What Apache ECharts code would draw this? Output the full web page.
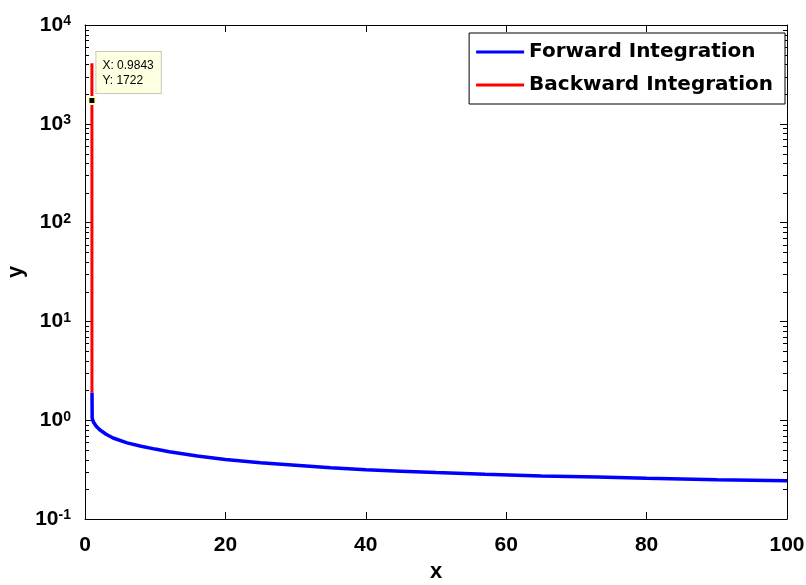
<!DOCTYPE html>
<html><head><meta charset="utf-8">
<script src="https://cdn.jsdelivr.net/npm/echarts@6/dist/echarts.min.js"></script>
<style>html,body{margin:0;padding:0;background:#fff}#c{width:806px;height:585px}</style>
</head><body><div id="c"></div>
<script>
// ---- data ----
const forwardX = [1.0, 1.02, 1.2, 1.6, 2.1, 3, 4, 6, 8, 10, 12, 16, 20, 25, 30, 35, 40, 45, 50, 57, 65, 73, 80, 90, 100];
const forwardY = [1.9, 1.05, 0.96, 0.87, 0.80, 0.72, 0.66, 0.59, 0.545, 0.51, 0.48, 0.435, 0.40, 0.37, 0.35, 0.33, 0.315, 0.305, 0.295, 0.283, 0.273, 0.266, 0.258, 0.25, 0.244];
const backwardX = [0.984, 0.9843, 0.99];
const backwardY = [4100, 1722, 1.9];
const xTicks = [0, 20, 40, 60, 80, 100];
const yTicks = [0.1, 1, 10, 100, 1000, 10000];
const yTickExp = ['-1', '0', '1', '2', '3', '4'];
const yMinorMantissa = [2, 3, 4, 5, 6, 7, 8, 9];
const dataTip = { x: 0.9843, y: 1722 };
const seriesNames = ['Forward Integration', 'Backward Integration'];

const minorTickVals = [];
yTicks.slice(0, -1).forEach(d => yMinorMantissa.forEach(m => minorTickVals.push(+(m * d).toPrecision(3))));

const zip = (xs, ys) => xs.map((x, i) => [x, ys[i]]);
const font = '"Liberation Sans", Arial, Helvetica, sans-serif';

const chart = echarts.init(document.getElementById('c'), null, { renderer: 'canvas' });
const yLabelRich = {
  b: { fontFamily: font, fontWeight: 'bold', fontSize: 21, color: '#000', lineHeight: 21, padding: [6, 0, 0, 0], verticalAlign: 'bottom' },
  s: { fontFamily: font, fontWeight: 'bold', fontSize: 14, color: '#000', lineHeight: 14, verticalAlign: 'top' }
};
function yFmt(v) {
  const i = yTicks.findIndex(t => Math.abs(Math.log10(t) - Math.log10(v)) < 1e-6);
  return i < 0 ? '' : '{b|10}{s|' + yTickExp[i] + '}';
}
const axisLine = { show: true, onZero: false, lineStyle: { color: '#000', width: 1 } };
const tick = { inside: true, length: 7, lineStyle: { color: '#000' } };

chart.setOption({
  animation: false,
  backgroundColor: '#fff',
  grid: { left: 85, right: 19, top: 25, bottom: 66, containLabel: false, outerBoundsMode: 'none' },
  legend: {
    data: seriesNames.map(n => ({ name: n, icon: 'rect' })),
    orient: 'vertical', right: 21, top: 33,
    itemWidth: 48, itemHeight: 3, itemGap: 13, itemTextGap: 5,
    padding: [9, 12, 9, 7],
    backgroundColor: '#fff', borderColor: '#000', borderWidth: 1, borderRadius: 0,
    textStyle: { fontFamily: '"DejaVu Sans", sans-serif', fontWeight: 'bold', fontSize: 20, color: '#000' }
  },
  xAxis: [
    { type: 'value', min: xTicks[0], max: xTicks[xTicks.length - 1], interval: 20, position: 'bottom',
      name: 'x', nameLocation: 'middle', nameGap: 42, nameMoveOverlap: false,
      nameTextStyle: { fontFamily: font, fontWeight: 'bold', fontSize: 22, color: '#000' },
      axisLine, axisTick: tick,
      axisLabel: { margin: 16, fontFamily: font, fontWeight: 'bold', fontSize: 21, color: '#000' },
      splitLine: { show: false } },
    { type: 'value', min: xTicks[0], max: xTicks[xTicks.length - 1], interval: 20, position: 'top',
      axisLine, axisTick: tick, axisLabel: { show: false }, splitLine: { show: false } }
  ],
  yAxis: [
    { type: 'log', logBase: 10, min: yTicks[0], max: yTicks[yTicks.length - 1], position: 'left',
      name: 'y', nameLocation: 'middle', nameGap: 58, nameRotate: 90, nameMoveOverlap: false,
      nameTextStyle: { fontFamily: font, fontWeight: 'bold', fontSize: 22, color: '#000' },
      axisLine, axisTick: tick,
      axisLabel: { margin: 14, formatter: yFmt, rich: yLabelRich, showMinLabel: true, showMaxLabel: true },
      splitLine: { show: false }, minorTick: { show: false } },
    { type: 'log', logBase: 10, min: yTicks[0], max: yTicks[yTicks.length - 1], position: 'right',
      axisLine, axisTick: tick, axisLabel: { show: false }, splitLine: { show: false } }
  ],
  series: [
    { name: seriesNames[0], type: 'line', data: zip(forwardX, forwardY), showSymbol: false, symbol: 'none',
      lineStyle: { color: '#0000ff', width: 3.5 }, itemStyle: { color: '#0000ff' }, z: 3 },
    { name: seriesNames[1], type: 'line', data: zip(backwardX, backwardY), showSymbol: false, symbol: 'none',
      lineStyle: { color: '#ff0000', width: 3 }, itemStyle: { color: '#ff0000' }, z: 4,
      markPoint: {
        symbol: 'rect', symbolSize: 7,
        itemStyle: { color: '#000', borderColor: '#ffffc8', borderWidth: 2 },
        data: [{ coord: [dataTip.x, dataTip.y], value: 0 }],
        label: {
          show: true, position: [9, -44],
          formatter: 'X: ' + dataTip.x + '\nY: ' + dataTip.y,
          fontFamily: font, fontSize: 12, lineHeight: 15, color: '#000',
          backgroundColor: '#ffffe1', borderColor: '#c8c8b4', borderWidth: 1,
          padding: [6, 7, 5, 6], align: 'left', verticalAlign: 'top'
        }
      } },
    { name: 'minorTicks', type: 'custom', silent: true, z: 2, clip: false,
      data: minorTickVals.map(v => [0, v]),
      renderItem: function (params, api) {
        const v = api.value(1);
        const l = api.coord([xTicks[0], v]);
        const r = api.coord([xTicks[xTicks.length - 1], v]);
        const st = { stroke: '#000', lineWidth: 1 };
        const y = Math.round(l[1]) + 0.5;
        return { type: 'group', children: [
          { type: 'line', shape: { x1: l[0], y1: y, x2: l[0] + 4, y2: y }, style: st },
          { type: 'line', shape: { x1: r[0] - 4, y1: y, x2: r[0], y2: y }, style: st }
        ] };
      } }
  ]
});
</script>
</body></html>
